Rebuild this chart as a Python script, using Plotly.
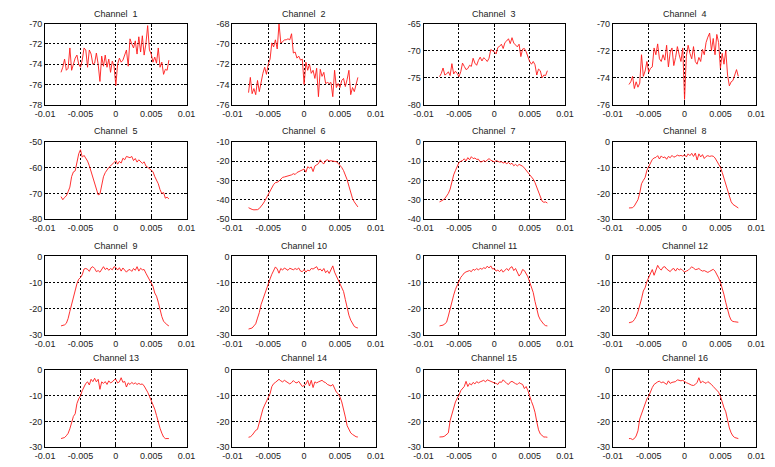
import plotly.graph_objects as go

# Frequency offset of each sample (normalised units)
freq = [
    -0.00775, -0.0075, -0.00725, -0.007, -0.00675, -0.0065, -0.00625, -0.006,
    -0.00575, -0.0055, -0.00525, -0.005, -0.00475, -0.0045, -0.00425, -0.004,
    -0.00375, -0.0035, -0.00325, -0.003, -0.00275, -0.0025, -0.00225, -0.002,
    -0.00175, -0.0015, -0.00125, -0.001, -0.00075, -0.0005, -0.00025, 0.0,
    0.00025, 0.0005, 0.00075, 0.001, 0.00125, 0.0015, 0.00175, 0.002,
    0.00225, 0.0025, 0.00275, 0.003, 0.00325, 0.0035, 0.00375, 0.004,
    0.00425, 0.0045, 0.00475, 0.005, 0.00525, 0.0055, 0.00575, 0.006,
    0.00625, 0.0065, 0.00675, 0.007, 0.00725, 0.0075,
]

# Power spectrum per channel (dB)
ch01 = [-74.8, -74.3, -73.5, -74.6, -74.4, -72.4, -74.6, -74.0, -73.4, -73.1, -74.0, -74.3,
        -73.6, -72.4, -72.6, -74.3, -72.6, -73.0, -74.0, -73.9, -72.9, -74.0, -75.7, -73.2,
        -74.2, -73.1, -74.3, -73.5, -74.8, -73.7, -74.2, -76.1, -74.0, -73.4, -73.8, -73.6,
        -73.0, -72.6, -74.2, -71.5, -72.0, -72.4, -71.7, -73.0, -71.3, -72.8, -71.2, -73.1,
        -72.0, -70.2, -72.6, -73.0, -73.8, -73.3, -73.9, -72.4, -74.3, -73.8, -75.0, -74.5,
        -74.6, -73.6]
ch02 = [-74.8, -73.3, -74.9, -74.4, -75.0, -73.6, -74.7, -73.6, -72.9, -72.3, -73.0, -72.0,
        -71.5, -69.9, -70.3, -69.6, -70.5, -68.0, -69.9, -69.8, -69.6, -69.6, -69.5, -69.6,
        -69.0, -70.9, -70.8, -71.4, -71.2, -71.6, -71.5, -74.0, -71.8, -72.6, -72.0, -72.9,
        -72.6, -73.4, -72.4, -75.2, -72.5, -73.2, -72.8, -73.9, -73.8, -73.9, -73.8, -75.2,
        -72.6, -74.3, -73.9, -74.3, -73.6, -73.4, -74.2, -73.5, -72.6, -75.0, -74.3, -74.7,
        -74.1, -73.3]
ch03 = [-74.8, -74.2, -73.2, -74.5, -74.3, -73.9, -74.6, -72.4, -74.3, -73.8, -74.2, -74.8,
        -73.9, -72.3, -72.9, -73.5, -73.3, -72.7, -72.9, -71.4, -72.3, -72.7, -71.8, -71.2,
        -71.9, -71.3, -71.6, -72.0, -71.4, -69.8, -70.0, -70.2, -70.6, -69.4, -69.2, -68.8,
        -69.6, -68.5, -68.2, -67.8, -68.7, -67.6, -68.6, -68.9, -69.3, -68.8, -71.1, -69.7,
        -69.6, -70.2, -71.2, -72.0, -72.5, -72.0, -72.6, -74.5, -73.4, -73.7, -75.0, -74.5,
        -74.6, -73.7]
ch04 = [-74.5, -74.3, -73.9, -74.8, -74.3, -74.7, -74.4, -72.3, -73.9, -73.5, -72.8, -73.6,
        -73.3, -73.2, -71.8, -72.3, -71.5, -72.6, -72.8, -72.3, -72.7, -71.6, -73.2, -72.1,
        -71.8, -73.1, -72.5, -71.7, -72.3, -72.8, -71.8, -75.6, -72.4, -71.6, -72.2, -72.6,
        -71.7, -72.8, -73.0, -72.5, -72.8, -71.9, -72.3, -71.4, -71.0, -70.7, -72.0, -71.1,
        -72.3, -70.8, -71.4, -73.3, -72.2, -73.0, -72.0, -73.8, -74.6, -74.3, -74.2, -73.8,
        -73.4, -73.9]
ch05 = [-71.2, -72.4, -71.5, -70.9, -69.3, -67.5, -63.4, -61.6, -61.2, -57.3, -54.6, -53.0,
        -55.9, -55.2, -56.3, -57.4, -59.2, -61.6, -63.9, -66.0, -68.7, -70.5, -70.2, -67.3,
        -63.5, -61.9, -60.8, -59.9, -59.3, -58.4, -57.9, -57.2, -58.6, -57.5, -58.2, -56.3,
        -56.9, -55.6, -55.8, -56.1, -55.6, -57.2, -56.4, -57.8, -56.9, -57.6, -58.3, -57.7,
        -59.3, -59.8, -60.4, -60.8, -61.5, -63.4, -64.7, -66.2, -68.5, -70.0, -69.6, -71.8,
        -71.4, -72.1]
ch06 = [-44.0, -44.6, -44.9, -45.1, -45.2, -45.0, -44.4, -43.5, -42.1, -40.6, -38.8, -36.8,
        -35.0, -33.4, -32.0, -31.0, -30.8, -30.2, -29.2, -28.3, -28.1, -27.9, -27.7, -27.3,
        -27.0, -26.4, -26.8, -25.8, -25.4, -25.0, -24.5, -24.0, -25.6, -22.8, -23.5, -22.9,
        -25.3, -22.4, -21.8, -21.2, -19.2, -20.6, -21.3, -19.6, -19.2, -19.8, -19.7, -19.9,
        -19.8, -20.2, -21.0, -22.0, -23.2, -24.8, -26.8, -29.5, -32.8, -36.5, -39.2, -41.0,
        -42.5, -43.6]
ch07 = [-31.0, -30.6, -30.0, -29.3, -28.0, -26.6, -24.4, -19.8, -17.0, -14.8, -12.3, -10.6,
        -10.0, -9.6, -8.7, -9.8, -8.1, -9.2, -7.6, -8.6, -8.3, -9.0, -8.9, -10.3,
        -10.2, -9.6, -10.1, -9.2, -8.6, -9.4, -9.7, -10.3, -9.6, -10.0, -10.4, -10.2,
        -10.9, -10.5, -11.2, -10.6, -11.5, -11.0, -12.3, -11.6, -12.4, -11.6, -12.0, -12.5,
        -13.5, -14.6, -15.8, -17.0, -18.3, -19.2, -21.0, -23.5, -26.0, -28.2, -30.6, -31.2,
        -31.0, -31.6]
ch08 = [-25.6, -25.6, -25.5, -24.8, -23.6, -22.4, -19.8, -16.2, -14.9, -13.8, -11.0, -9.4,
        -8.0, -6.8, -6.2, -6.0, -5.3, -6.6, -5.4, -6.1, -5.8, -6.7, -5.6, -6.1,
        -5.2, -5.9, -5.6, -5.1, -5.4, -5.2, -5.5, -5.0, -5.8, -4.6, -5.3, -4.4,
        -5.6, -4.3, -7.0, -4.6, -5.8, -4.9, -6.4, -5.6, -5.3, -5.6, -5.4, -5.5,
        -6.2, -7.3, -8.6, -9.8, -11.8, -14.2, -15.8, -18.2, -20.8, -23.2, -24.2, -24.6,
        -25.0, -25.6]
ch09 = [-26.6, -26.4, -26.2, -25.6, -23.8, -21.0, -18.3, -15.2, -12.6, -10.4, -8.7, -8.1,
        -7.0, -4.8, -4.6, -4.9, -5.7, -4.3, -3.9, -4.6, -5.8, -5.4, -6.0, -4.8,
        -3.9, -5.0, -4.4, -5.3, -4.6, -5.1, -3.9, -4.2, -5.2, -4.3, -5.6, -4.4,
        -5.3, -6.0, -5.2, -5.0, -5.7, -4.6, -5.3, -3.9, -5.6, -4.5, -5.1, -5.0,
        -6.4, -7.6, -9.0, -10.4, -11.4, -14.0, -15.2, -17.5, -20.4, -23.0, -24.8, -25.7,
        -26.2, -26.6]
ch10 = [-27.8, -27.7, -27.4, -26.6, -25.8, -23.6, -21.5, -18.4, -16.4, -13.8, -11.8, -9.8,
        -8.6, -6.8, -5.6, -4.0, -4.8, -6.4, -4.6, -5.2, -4.4, -4.9, -5.3, -4.5,
        -4.8, -5.1, -4.6, -5.0, -4.4, -5.6, -5.8, -5.0, -6.0, -5.2, -5.5, -4.6,
        -4.8, -4.2, -3.9, -5.2, -4.8, -5.6, -4.6, -6.2, -5.4, -6.5, -4.8, -3.6,
        -6.0, -7.4, -8.6, -10.2, -11.4, -13.4, -16.5, -19.8, -22.5, -24.4, -25.6, -26.8,
        -27.2, -27.4]
ch11 = [-26.6, -26.5, -26.3, -25.8, -25.2, -22.8, -19.8, -17.2, -14.8, -12.6, -11.0, -9.4,
        -8.0, -7.2, -6.3, -5.9, -5.7, -5.4, -5.8, -4.9, -5.3, -4.6, -5.2, -4.5,
        -4.9, -4.3, -4.6, -3.7, -4.4, -3.6, -4.8, -4.6, -5.6, -5.2, -5.8, -5.0,
        -6.0, -5.1, -4.6, -5.4, -4.3, -3.9, -5.4, -4.6, -6.2, -7.5, -6.6, -5.0,
        -5.4, -6.6, -7.8, -9.8, -11.6, -13.8, -17.2, -20.6, -22.8, -24.2, -25.3, -26.0,
        -26.5, -26.6]
ch12 = [-25.4, -25.3, -25.0, -24.2, -23.0, -21.2, -19.0, -16.2, -13.2, -12.0, -9.6, -7.8,
        -6.2, -5.0, -7.2, -5.4, -3.4, -4.6, -5.2, -4.1, -3.9, -4.8, -5.3, -5.8,
        -4.9, -4.6, -5.6, -4.5, -5.2, -4.7, -5.4, -5.9, -5.6, -5.3, -4.6, -4.0,
        -4.4, -5.0, -4.9, -4.6, -5.2, -5.6, -5.4, -5.8, -6.1, -5.7, -5.2, -4.9,
        -5.6, -6.8, -8.2, -9.8, -12.0, -14.6, -17.6, -20.4, -22.8, -24.4, -24.9, -25.0,
        -25.2, -25.2]
ch13 = [-26.6, -26.5, -26.2, -25.5, -24.6, -22.8, -20.5, -18.0, -17.0, -13.0, -11.2, -10.0,
        -8.0, -6.8, -5.2, -4.6, -5.8, -3.6, -4.5, -3.2, -4.6, -3.6, -7.5, -4.6,
        -5.2, -4.5, -5.6, -4.2, -5.0, -4.6, -3.8, -3.6, -5.0, -4.6, -3.0, -4.8,
        -4.4, -6.6, -5.0, -5.6, -4.8, -5.4, -5.0, -5.6, -5.2, -5.6, -5.4, -6.2,
        -7.2, -8.6, -10.2, -11.8, -13.5, -15.2, -17.6, -20.4, -22.6, -24.5, -26.0, -26.6,
        -26.6, -26.6]
ch14 = [-26.1, -25.9, -25.3, -24.2, -23.4, -23.0, -20.4, -17.4, -15.2, -13.6, -12.0, -10.4,
        -9.2, -6.4, -5.3, -4.8, -4.0, -3.6, -4.2, -4.6, -4.0, -4.4, -5.0, -5.4,
        -4.9, -4.1, -4.8, -5.0, -4.4, -5.2, -6.4, -6.0, -5.5, -4.0, -6.2, -4.0,
        -6.8, -4.6, -5.0, -4.6, -4.3, -4.0, -4.6, -4.9, -5.6, -5.8, -6.2, -5.6,
        -7.0, -8.6, -9.2, -10.4, -12.4, -15.0, -18.2, -21.6, -23.4, -24.4, -25.0, -25.6,
        -25.9, -26.0]
ch15 = [-26.0, -26.0, -25.9, -25.6, -25.0, -24.4, -19.6, -17.0, -14.8, -12.4, -11.0, -9.8,
        -8.0, -7.0, -6.4, -4.4, -6.4, -5.2, -5.8, -4.8, -5.4, -4.5, -5.0, -4.6,
        -4.4, -4.0, -4.6, -3.8, -4.1, -4.5, -4.8, -5.0, -5.2, -5.6, -4.6, -4.8,
        -3.8, -4.6, -5.2, -5.6, -4.7, -4.4, -5.0, -5.3, -5.6, -4.9, -5.3, -5.6,
        -7.2, -6.4, -8.0, -10.4, -12.2, -14.0, -16.4, -20.0, -23.2, -24.8, -25.6, -26.0,
        -26.0, -26.1]
ch16 = [-26.6, -26.6, -27.0, -26.6, -25.6, -23.6, -19.0, -17.0, -15.6, -13.2, -11.2, -10.2,
        -8.2, -6.8, -5.6, -5.0, -4.6, -4.3, -5.0, -4.6, -5.0, -5.6, -4.2, -5.2,
        -4.8, -4.6, -4.5, -3.8, -4.0, -4.2, -4.0, -4.6, -4.9, -5.2, -5.6, -5.9,
        -6.0, -5.6, -4.8, -3.0, -5.0, -4.4, -4.8, -5.2, -4.5, -4.9, -5.6, -6.4,
        -7.2, -7.8, -8.6, -10.2, -12.6, -14.6, -16.2, -19.6, -22.5, -24.4, -25.6, -26.2,
        -26.4, -26.6]

channels = [ch01, ch02, ch03, ch04, ch05, ch06, ch07, ch08,
            ch09, ch10, ch11, ch12, ch13, ch14, ch15, ch16]

# Vertical limits and tick step of each panel
y_lo = [-78, -76, -80, -76, -80, -50, -40, -30, -30, -30, -30, -30, -30, -30, -30, -30]
y_hi = [-70, -68, -65, -70, -50, -10, 0, 0, 0, 0, 0, 0, 0, 0, 0, 0]
y_step = [2, 2, 5, 2, 10, 10, 10, 10, 10, 10, 10, 10, 10, 10, 10, 10]

x_ticks = [-0.01, -0.005, 0, 0.005, 0.01]
x_tick_text = ["-0.01", "-0.005", "0", "0.005", "0.01"]

W, H = 775, 467
col_px = [(36, 181), (228, 375), (424, 569), (618, 765)]
row_px = [(19, 102), (140, 219), (257, 337), (373, 452)]
title_px = [9, 129, 246, 361]

FONT = "Liberation Sans, Arial, Helvetica, sans-serif"
tick_font = dict(family=FONT, size=9, color="#222222")

common_axis = dict(
    showline=True, mirror="ticks", linecolor="#000000", linewidth=1,
    ticks="inside", ticklen=3, tickcolor="#000000", tickwidth=1,
    showgrid=True, gridcolor="#000000", gridwidth=1, griddash="2px,2px",
    zeroline=False, tickfont=tick_font, fixedrange=True,
)

fig = go.Figure()
annotations = []
layout_axes = {}
for k, values in enumerate(channels):
    r, c = divmod(k, 4)
    suffix = "" if k == 0 else str(k + 1)
    fig.add_trace(go.Scatter(
        x=freq, y=values, mode="lines",
        line=dict(color="#ff1a1a", width=0.9),
        xaxis="x" + suffix, yaxis="y" + suffix,
        showlegend=False, hoverinfo="skip",
    ))
    x0, x1 = col_px[c]
    top, bot = row_px[r]
    y_vals = list(range(y_lo[k], y_hi[k] + 1, y_step[k]))
    layout_axes["xaxis" + suffix] = dict(
        common_axis, domain=[x0 / W, x1 / W], anchor="y" + suffix,
        range=[-0.01, 0.01], tickmode="array",
        tickvals=x_ticks, ticktext=x_tick_text,
    )
    layout_axes["yaxis" + suffix] = dict(
        common_axis, domain=[1 - bot / H, 1 - top / H], anchor="x" + suffix,
        range=[y_lo[k], y_hi[k]], tickmode="array",
        tickvals=y_vals, ticktext=[str(v) for v in y_vals],
    )
    label = "Channel " + f"{k + 1:>2}"
    annotations.append(dict(
        text=label.replace(" ", "\u00a0"),
        x=(x0 + x1) / 2 / W, y=1 - title_px[r] / H,
        xref="paper", yref="paper", xanchor="center", yanchor="middle",
        showarrow=False, font=dict(family=FONT, size=9, color="#222222"),
    ))

fig.update_layout(
    width=W, height=H,
    margin=dict(l=0, r=0, t=0, b=0),
    paper_bgcolor="#ffffff", plot_bgcolor="#ffffff",
    annotations=annotations,
    **layout_axes,
)

fig.write_html("out.html", include_plotlyjs=True, config={"displayModeBar": False})
